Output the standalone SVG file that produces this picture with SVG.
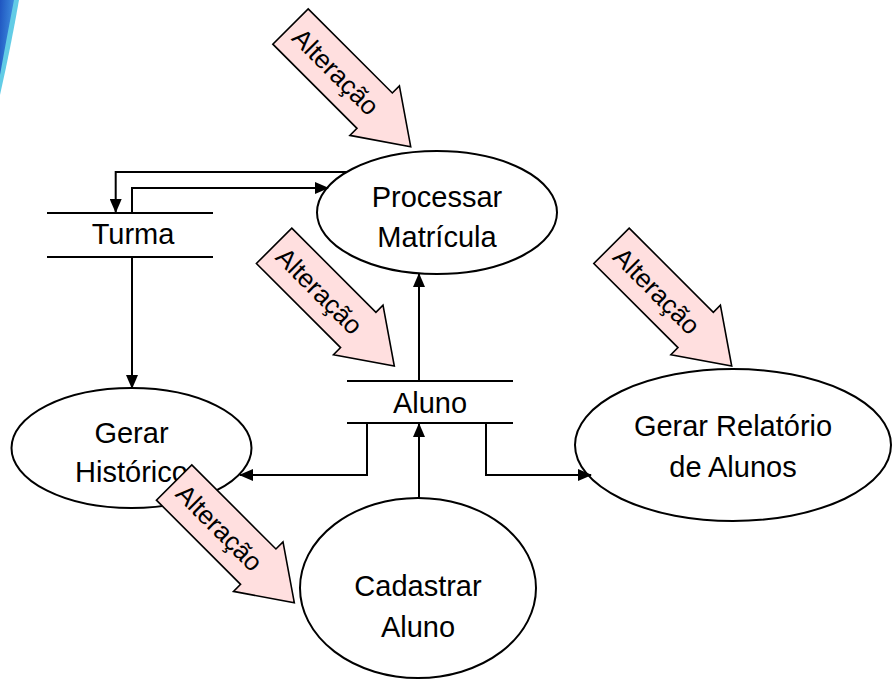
<svg xmlns="http://www.w3.org/2000/svg" width="894" height="682" viewBox="0 0 894 682">
<defs>
<style>
text{font-family:"Liberation Sans",Arial,sans-serif;fill:#000}
.lbl{font-size:29px;text-anchor:middle}
.node{fill:#fff;stroke:#000;stroke-width:2}
.store{stroke:#000;stroke-width:2}
.conn{fill:none;stroke:#000;stroke-width:2;marker-end:url(#ah)}
.alt text{font-size:26px;text-anchor:middle}
</style>
<marker id="ah" markerWidth="14" markerHeight="12" refX="13" refY="6" orient="auto" markerUnits="userSpaceOnUse">
<path d="M0,0 L14,6 L0,12 Z" fill="#000"/>
</marker>
<linearGradient id="sw" x1="0" y1="0" x2="1" y2="0.3">
<stop offset="0" stop-color="#1f55c0"/>
<stop offset="1" stop-color="#3f8fe0"/>
</linearGradient>
<polygon id="blk" points="0,-25 119,-25 119,-35 170,0 119,35 119,25 0,25" fill="#ffdfdf" stroke="#000" stroke-width="1.6"/>
</defs>
<rect width="894" height="682" fill="#fff"/>
<g id="swoosh">
<path d="M0,0 H19 Q11,46 0,95 Z" fill="#62cce6"/>
<path d="M0,0 H14 Q7,36 0,75 Z" fill="url(#sw)"/>
</g>
<g id="processar"><ellipse class="node" cx="437" cy="212.5" rx="120" ry="61.5"/><text class="lbl" x="437" y="207">Processar</text><text class="lbl" x="437" y="247">Matrícula</text></g>
<g id="turma"><line class="store" x1="47" y1="213" x2="213" y2="213"/><line class="store" x1="47" y1="257" x2="213" y2="257"/><text class="lbl" x="133" y="243.5">Turma</text></g>
<g id="aluno"><line class="store" x1="347" y1="381" x2="513" y2="381"/><line class="store" x1="347" y1="423" x2="513" y2="423"/><text class="lbl" x="430" y="412.5">Aluno</text></g>
<g id="gerarHistorico"><ellipse class="node" cx="131.5" cy="448" rx="120" ry="60"/><text class="lbl" x="131.5" y="443">Gerar</text><text class="lbl" x="131.5" y="482">Histórico</text></g>
<g id="gerarRelatorio"><ellipse class="node" cx="733" cy="445" rx="158" ry="76"/><text class="lbl" x="733" y="436">Gerar Relatório</text><text class="lbl" x="733" y="477">de Alunos</text></g>
<g id="cadastrarAluno"><ellipse class="node" cx="418" cy="588" rx="118" ry="90"/><text class="lbl" x="418" y="596">Cadastrar</text><text class="lbl" x="418" y="637">Aluno</text></g>
<g id="connectors">
<path class="conn" d="M347,172 H115.7 V212"/>
<path class="conn" d="M132,213 V188 H328"/>
<path class="conn" d="M132,257 V388"/>
<path class="conn" d="M419,381 V274"/>
<path class="conn" d="M367,423 V475 H240"/>
<path class="conn" d="M486,423 V475 H591"/>
<path class="conn" d="M419,498 V424"/>
</g>
<g id="alteracao1" class="alt" transform="translate(290.5,26.5) rotate(45)"><use href="#blk"/><text x="64" y="9">Alteração</text></g>
<g id="alteracao2" class="alt" transform="translate(274.1,245.8) rotate(45)"><use href="#blk"/><text x="64" y="9">Alteração</text></g>
<g id="alteracao3" class="alt" transform="translate(611.5,245.8) rotate(45)"><use href="#blk"/><text x="64" y="9">Alteração</text></g>
<g id="alteracao4" class="alt" transform="translate(174.1,482.5) rotate(45)"><use href="#blk"/><text x="64" y="9">Alteração</text></g>
</svg>
